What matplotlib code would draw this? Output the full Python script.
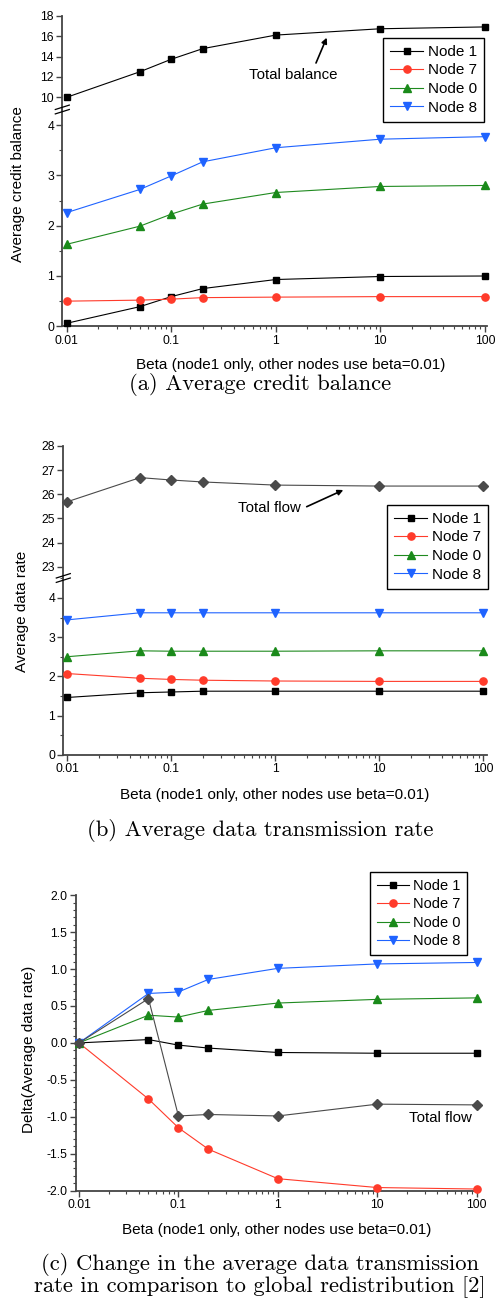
import numpy as np
import matplotlib
matplotlib.use("Agg")
import matplotlib.pyplot as plt
from matplotlib.lines import Line2D
from matplotlib.ticker import LogLocator, FuncFormatter, MultipleLocator, NullFormatter, NullLocator

plt.rcParams['font.family'] = ['Liberation Sans', 'DejaVu Sans']

# ---- data ----
beta = [0.01, 0.05, 0.1, 0.2, 1, 10, 100]

bal_total = [10.0, 12.5, 13.73, 14.77, 16.1, 16.72, 16.9]
bal_node1 = [0.06, 0.39, 0.59, 0.75, 0.93, 0.99, 1.0]
bal_node7 = [0.50, 0.52, 0.54, 0.57, 0.58, 0.59, 0.59]
bal_node0 = [1.63, 1.99, 2.23, 2.43, 2.66, 2.78, 2.80]
bal_node8 = [2.26, 2.72, 2.99, 3.27, 3.55, 3.72, 3.77]

rate_total = [25.69, 26.69, 26.59, 26.51, 26.38, 26.34, 26.34]
rate_node1 = [1.46, 1.58, 1.60, 1.62, 1.62, 1.62, 1.62]
rate_node7 = [2.07, 1.95, 1.92, 1.90, 1.88, 1.87, 1.87]
rate_node0 = [2.50, 2.65, 2.64, 2.64, 2.64, 2.65, 2.65]
rate_node8 = [3.44, 3.62, 3.62, 3.62, 3.62, 3.62, 3.62]

delta_total = [0.0, 0.60, -0.99, -0.97, -0.99, -0.83, -0.84]
delta_node1 = [0.0, 0.045, -0.03, -0.07, -0.13, -0.14, -0.14]
delta_node7 = [0.0, -0.76, -1.15, -1.44, -1.84, -1.96, -1.98]
delta_node0 = [0.0, 0.375, 0.35, 0.44, 0.54, 0.59, 0.61]
delta_node8 = [0.0, 0.67, 0.69, 0.86, 1.01, 1.07, 1.09]

node_labels = ["Node 1", "Node 7", "Node 0", "Node 8"]

# style per series: (line colour, marker colour, marker, size)
STY = {
    "Node 1": ("#000000", "#000000", "s", 5.0),
    "Node 7": ("#ff3b2b", "#ff3b2b", "o", 5.2),
    "Node 0": ("#1f8a1f", "#1a8a1a", "^", 6.0),
    "Node 8": ("#1f63ff", "#1f63ff", "v", 6.0),
    "total":  ("#4a4a4a", "#4a4a4a", "D", 4.6),
}

W, H = 496, 1302
SPINE = "#444444"
XLABEL = "Beta (node1 only, other nodes use beta=0.01)"
CAP_FS = 16.3


def px_axes(fig, left, top, right, bottom):
    return fig.add_axes([left / W, 1 - bottom / H, (right - left) / W, (bottom - top) / H])


def _plot(ax, y, key, label=None):
    lc, mc, m, ms = STY[key]
    ln, = ax.plot(beta, y, color=lc, lw=0.8, marker=m, ms=ms, mfc=mc, mec=mc,
                  label=label, clip_on=False, zorder=3)
    return ln


def _style(ax, xlim, bottom=True):
    ax.set_xscale("log")
    ax.set_xlim(*xlim)
    for s in ["top", "right"]:
        ax.spines[s].set_visible(False)
    for s in ["left", "bottom"]:
        ax.spines[s].set_color(SPINE)
        ax.spines[s].set_linewidth(1.3)
    ax.tick_params(direction="out", length=4, width=1.0, colors=SPINE,
                   labelcolor="black", labelsize=8.7, pad=2)
    ax.tick_params(which="minor", direction="out", length=2.2, width=0.8, colors=SPINE)
    ax.patch.set_alpha(0)
    if bottom:
        ax.xaxis.set_major_locator(LogLocator(base=10, numticks=10))
        ax.xaxis.set_minor_locator(LogLocator(base=10, subs=np.arange(2, 10), numticks=10))
        ax.xaxis.set_major_formatter(FuncFormatter(lambda v, p: f"{v:g}"))
        ax.xaxis.set_minor_formatter(NullFormatter())
    else:
        ax.spines["bottom"].set_visible(False)
        ax.xaxis.set_major_locator(NullLocator())
        ax.xaxis.set_minor_locator(NullLocator())


def _break_marks(fig, x, y):
    for off in (-2.2, 2.2):
        fig.add_artist(Line2D([(x - 7) / W, (x + 7) / W],
                              [1 - (y + off + 2.2) / H, 1 - (y + off - 2.2) / H],
                              color="black", lw=0.9))


def _legend(fig, handles, left, top, fs=11.0):
    leg = fig.legend(handles=handles, labels=node_labels, loc="upper left",
                     bbox_to_anchor=(left / W, 1 - top / H), fontsize=fs,
                     frameon=True, fancybox=False, framealpha=1, edgecolor="black",
                     borderpad=0.45, labelspacing=0.3, handlelength=2.2,
                     handletextpad=0.3, borderaxespad=0)
    leg.get_frame().set_linewidth(1.0)
    return leg


def fpx(x, y):
    return (x, H - y)


fig = plt.figure(figsize=(W / 100, H / 100), dpi=100)

# ---------------- (a) ----------------
xlim_a = (0.00908, 105.2)
ax_a1 = px_axes(fig, 62.3, 15.7, 487.3, 109.5)
ax_a2 = px_axes(fig, 62.3, 109.5, 487.3, 326.3)
_style(ax_a1, xlim_a, bottom=False)
_style(ax_a2, xlim_a)
ax_a1.set_ylim(18 - (109.5 - 15.7) / 10.2, 18)
ax_a1.yaxis.set_major_locator(MultipleLocator(2))
ax_a1.yaxis.set_major_formatter(FuncFormatter(lambda v, p: f"{v:g}"))
ax_a2.set_ylim(0, (326.3 - 109.5) / 50.3)
ax_a2.yaxis.set_major_locator(MultipleLocator(1))
ax_a2.yaxis.set_minor_locator(MultipleLocator(0.5))
ax_a2.yaxis.set_major_formatter(FuncFormatter(lambda v, p: f"{v:g}"))

_plot(ax_a1, bal_total, "Node 1")
h = [_plot(ax_a2, bal_node1, "Node 1"), _plot(ax_a2, bal_node7, "Node 7"),
     _plot(ax_a2, bal_node0, "Node 0"), _plot(ax_a2, bal_node8, "Node 8")]
_break_marks(fig, 62.3, 109.5)
_legend(fig, h, 383, 38)
fig.text(293 / W, 1 - 75 / H, "Total balance", ha="center", va="center", fontsize=10.8)
ax_a1.annotate("", xy=fpx(326.7, 37.7), xycoords="figure pixels",
               xytext=fpx(316, 63), textcoords="figure pixels",
               arrowprops=dict(arrowstyle="-|>", color="black", lw=1.2,
                               mutation_scale=8, shrinkA=0, shrinkB=0))
fig.text(18.3 / W, 1 - 184 / H, "Average credit balance", rotation=90,
         ha="center", va="center", fontsize=11)
fig.text(290.8 / W, 1 - 365 / H, XLABEL, ha="center", va="center", fontsize=11)
fig.text(259.7 / W, 1 - 384 / H, "(a) Average credit balance", ha="center",
         va="center", fontsize=CAP_FS, family="cmr10")

# ---------------- (b) ----------------
xlim_b = (0.00915, 109)
ax_b1 = px_axes(fig, 63.3, 446, 487.3, 578)
ax_b2 = px_axes(fig, 63.3, 578, 487.3, 754.7)
_style(ax_b1, xlim_b, bottom=False)
_style(ax_b2, xlim_b)
ax_b1.set_ylim(28 - (578 - 446) / 24.13, 28)
ax_b1.yaxis.set_major_locator(MultipleLocator(1))
ax_b1.yaxis.set_major_formatter(FuncFormatter(lambda v, p: f"{v:g}"))
ax_b2.set_ylim(0, (754.7 - 578) / 39.2)
ax_b2.yaxis.set_major_locator(MultipleLocator(1))
ax_b2.yaxis.set_minor_locator(MultipleLocator(0.5))
ax_b2.yaxis.set_major_formatter(FuncFormatter(lambda v, p: f"{v:g}"))

_plot(ax_b1, rate_total, "total")
h = [_plot(ax_b2, rate_node1, "Node 1"), _plot(ax_b2, rate_node7, "Node 7"),
     _plot(ax_b2, rate_node0, "Node 0"), _plot(ax_b2, rate_node8, "Node 8")]
_break_marks(fig, 63.3, 578)
_legend(fig, h, 387, 505)
fig.text(269 / W, 1 - 507.7 / H, "Total flow", ha="center", va="center", fontsize=10.8)
ax_b1.annotate("", xy=fpx(343.3, 490), xycoords="figure pixels",
               xytext=fpx(306.7, 506.7), textcoords="figure pixels",
               arrowprops=dict(arrowstyle="-|>", color="black", lw=1.2,
                               mutation_scale=8, shrinkA=0, shrinkB=0))
fig.text(21.7 / W, 1 - 611.7 / H, "Average data rate", rotation=90,
         ha="center", va="center", fontsize=11)
fig.text(275 / W, 1 - 795 / H, XLABEL, ha="center", va="center", fontsize=11)
fig.text(260 / W, 1 - 830 / H, "(b) Average data transmission rate", ha="center",
         va="center", fontsize=CAP_FS, family="cmr10")

# ---------------- (c) ----------------
ax_c = px_axes(fig, 75.7, 895.3, 480, 1190.5)
_style(ax_c, (0.00927, 107.9))
ax_c.set_ylim(-2, 2)
ax_c.yaxis.set_major_locator(MultipleLocator(0.5))
ax_c.yaxis.set_minor_locator(MultipleLocator(0.1))
ax_c.yaxis.set_major_formatter(FuncFormatter(lambda v, p: f"{v:.1f}".replace("\u2212", "-")))

h = [_plot(ax_c, delta_node1, "Node 1"), _plot(ax_c, delta_node7, "Node 7"),
     _plot(ax_c, delta_node0, "Node 0"), _plot(ax_c, delta_node8, "Node 8")]
_plot(ax_c, delta_total, "total")
_legend(fig, h, 370, 872.3, fs=10.5)
fig.text(440 / W, 1 - 1118 / H, "Total flow", ha="center", va="center", fontsize=10.8)
fig.text(29.3 / W, 1 - 1049 / H, "Delta(Average data rate)", rotation=90,
         ha="center", va="center", fontsize=11)
fig.text(277 / W, 1 - 1230 / H, XLABEL, ha="center", va="center", fontsize=11)
fig.text(260 / W, 1 - 1264 / H, "(c) Change in the average data transmission",
         ha="center", va="center", fontsize=CAP_FS, family="cmr10")
fig.text(260 / W, 1 - 1287 / H, "rate in comparison to global redistribution [2]",
         ha="center", va="center", fontsize=CAP_FS, family="cmr10")

fig.savefig("out.png", dpi=100)
